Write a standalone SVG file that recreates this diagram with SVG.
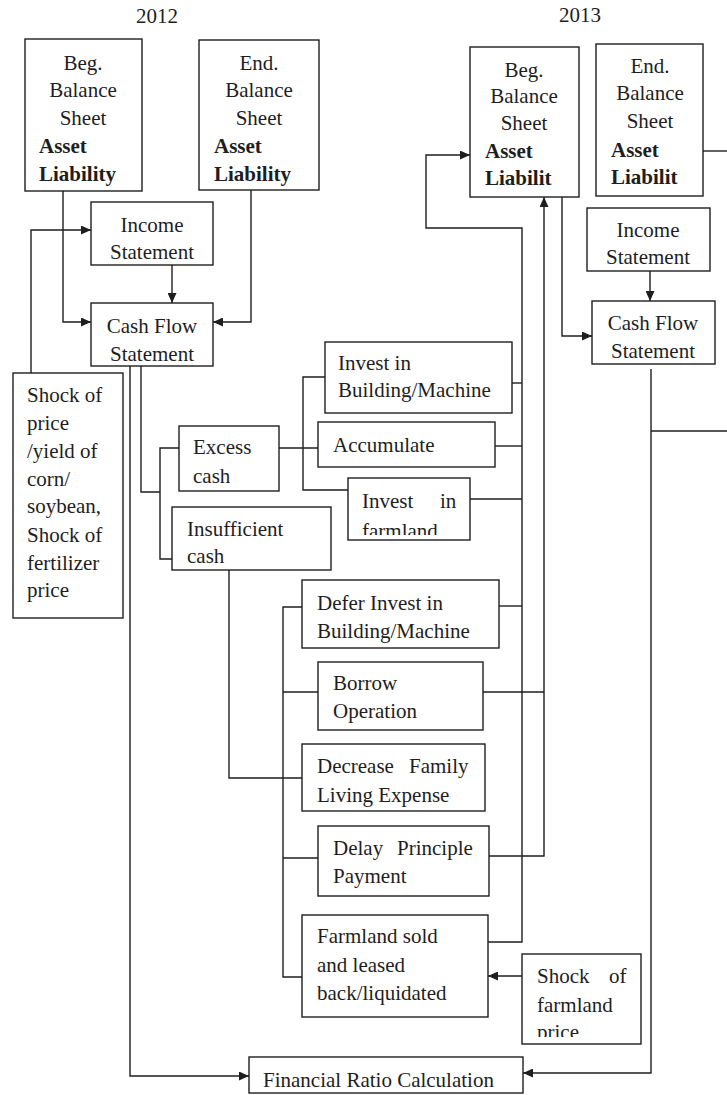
<svg xmlns="http://www.w3.org/2000/svg" width="727" height="1095" viewBox="0 0 727 1095">
<style>
.box{fill:#fff;stroke:#1e1e1e;stroke-width:1.4}
.t{font-family:"Liberation Serif","Times New Roman",serif;font-size:21px;fill:#1e1e1e}
.b{font-weight:bold}
.c{text-anchor:middle}
.ln{fill:none;stroke:#1e1e1e;stroke-width:1.4}
.ar{marker-end:url(#ah)}
</style>
<defs>
<marker id="ah" markerUnits="userSpaceOnUse" markerWidth="11" markerHeight="9" refX="10" refY="4.5" orient="auto">
<path d="M0,0 L10,4.5 L0,9 z" fill="#1e1e1e"/>
</marker>
<clipPath id="clipFarm"><rect x="349" y="479" width="120" height="56"/></clipPath>
<clipPath id="clipPrice"><rect x="523" y="955" width="117" height="82"/></clipPath>
</defs>

<text class="t c" x="157" y="23">2012</text>
<text class="t c" x="580" y="22">2013</text>

<g id="connectors">
<path class="ln ar" d="M63,191 V322 H91"/>
<path class="ln ar" d="M251,190 V322 H213"/>
<path class="ln ar" d="M172,265 V303"/>
<path class="ln ar" d="M31,373 V230 H91"/>
<path class="ln ar" d="M130,366 V1076 H249"/>
<path class="ln" d="M141,366 V492 H160"/>
<path class="ln" d="M179,448 H160 V559 H172"/>
<path class="ln" d="M279,448 H318"/>
<path class="ln" d="M325,377 H303 V490 H348"/>
<path class="ln" d="M229,570 V778 H302"/>
<path class="ln" d="M302,607 H283 V977 H302"/>
<path class="ln" d="M283,692 H318"/>
<path class="ln" d="M283,858 H318"/>
<path class="ln" d="M512,383 H522"/>
<path class="ln" d="M495,446 H522"/>
<path class="ln" d="M470,499 H522"/>
<path class="ln" d="M499,606 H522"/>
<path class="ln ar" d="M488,942 H522 V228 H426 V155 H470"/>
<path class="ln" d="M483,692 H544"/>
<path class="ln ar" d="M489,856 H544 V197"/>
<path class="ln ar" d="M562,197 V336 H592"/>
<path class="ln ar" d="M650,271 V301"/>
<path class="ln ar" d="M651,369 V1073 H523"/>
<path class="ln" d="M651,431 H727"/>
<path class="ln" d="M703,151 H727"/>
<path class="ln ar" d="M522,976 H488"/>
</g>

<g id="beg2012">
<rect class="box" x="25" y="39" width="117" height="152"/>
<text class="t c" x="83" y="70">Beg.</text>
<text class="t c" x="83" y="97">Balance</text>
<text class="t c" x="83" y="125">Sheet</text>
<text class="t b" x="39" y="153">Asset</text>
<text class="t b" x="39" y="181">Liability</text>
</g>

<g id="end2012">
<rect class="box" x="199" y="40" width="120" height="150"/>
<text class="t c" x="259" y="70">End.</text>
<text class="t c" x="259" y="97">Balance</text>
<text class="t c" x="259" y="125">Sheet</text>
<text class="t b" x="214" y="153">Asset</text>
<text class="t b" x="214" y="181">Liability</text>
</g>

<g id="income2012">
<rect class="box" x="91" y="202" width="122" height="63"/>
<text class="t c" x="152" y="232">Income</text>
<text class="t c" x="152" y="259">Statement</text>
</g>

<g id="cashflow2012">
<rect class="box" x="91" y="303" width="122" height="63"/>
<text class="t c" x="152" y="333">Cash Flow</text>
<text class="t c" x="152" y="361">Statement</text>
</g>

<g id="shock2012">
<rect class="box" x="13" y="373" width="110" height="245"/>
<text class="t" x="27" y="402">Shock of</text>
<text class="t" x="27" y="430">price</text>
<text class="t" x="27" y="458">/yield of</text>
<text class="t" x="27" y="486">corn/</text>
<text class="t" x="27" y="513">soybean,</text>
<text class="t" x="27" y="542">Shock of</text>
<text class="t" x="27" y="570">fertilizer</text>
<text class="t" x="27" y="597">price</text>
</g>

<g id="excess">
<rect class="box" x="179" y="426" width="100" height="65"/>
<text class="t" x="193" y="454">Excess</text>
<text class="t" x="193" y="483">cash</text>
</g>

<g id="insufficient">
<rect class="box" x="172" y="507" width="159" height="63"/>
<text class="t" x="187" y="536">Insufficient</text>
<text class="t" x="187" y="563">cash</text>
</g>

<g id="investBuilding">
<rect class="box" x="325" y="342" width="187" height="71"/>
<text class="t" x="338" y="370">Invest in</text>
<text class="t" x="338" y="397">Building/Machine</text>
</g>

<g id="accumulate">
<rect class="box" x="318" y="422" width="177" height="45"/>
<text class="t" x="333" y="452">Accumulate</text>
</g>

<g id="investFarmland">
<rect class="box" x="348" y="478" width="122" height="62"/>
<text class="t" y="508"><tspan x="362">Invest</tspan><tspan x="440">in</tspan></text>
<text class="t" x="362" y="538" clip-path="url(#clipFarm)">farmland</text>
</g>

<g id="deferInvest">
<rect class="box" x="302" y="580" width="197" height="68"/>
<text class="t" x="317" y="610">Defer Invest in</text>
<text class="t" x="317" y="638">Building/Machine</text>
</g>

<g id="borrow">
<rect class="box" x="318" y="662" width="165" height="68"/>
<text class="t" x="333" y="690">Borrow</text>
<text class="t" x="333" y="718">Operation</text>
</g>

<g id="decreaseFamily">
<rect class="box" x="302" y="744" width="183" height="67"/>
<text class="t" y="773"><tspan x="317">Decrease</tspan><tspan x="409">Family</tspan></text>
<text class="t" x="317" y="802">Living Expense</text>
</g>

<g id="delayPrinciple">
<rect class="box" x="318" y="826" width="171" height="70"/>
<text class="t" y="855"><tspan x="333">Delay</tspan><tspan x="397">Principle</tspan></text>
<text class="t" x="333" y="883">Payment</text>
</g>

<g id="farmlandSold">
<rect class="box" x="302" y="915" width="186" height="102"/>
<text class="t" x="317" y="943">Farmland sold</text>
<text class="t" x="317" y="972">and leased</text>
<text class="t" x="317" y="1000">back/liquidated</text>
</g>

<g id="shockFarmland">
<rect class="box" x="522" y="954" width="119" height="90"/>
<text class="t" y="983"><tspan x="537">Shock</tspan><tspan x="609">of</tspan></text>
<text class="t" x="537" y="1012">farmland</text>
<text class="t" x="537" y="1039" clip-path="url(#clipPrice)">price</text>
</g>

<g id="financialRatio">
<rect class="box" x="249" y="1057" width="274" height="36"/>
<text class="t" x="263" y="1087">Financial Ratio Calculation</text>
</g>

<g id="beg2013">
<rect class="box" x="470" y="47" width="109" height="150"/>
<text class="t c" x="524" y="77">Beg.</text>
<text class="t c" x="524" y="103">Balance</text>
<text class="t c" x="524" y="130">Sheet</text>
<text class="t b" x="485" y="158">Asset</text>
<text class="t b" x="485" y="185">Liabilit</text>
</g>

<g id="end2013">
<rect class="box" x="596" y="44" width="107" height="152"/>
<text class="t c" x="650" y="73">End.</text>
<text class="t c" x="650" y="100">Balance</text>
<text class="t c" x="650" y="128">Sheet</text>
<text class="t b" x="611" y="157">Asset</text>
<text class="t b" x="611" y="184">Liabilit</text>
</g>

<g id="income2013">
<rect class="box" x="587" y="208" width="123" height="63"/>
<text class="t c" x="648" y="237">Income</text>
<text class="t c" x="648" y="264">Statement</text>
</g>

<g id="cashflow2013">
<rect class="box" x="592" y="301" width="123" height="63"/>
<text class="t c" x="653" y="330">Cash Flow</text>
<text class="t c" x="653" y="358">Statement</text>
</g>
</svg>
